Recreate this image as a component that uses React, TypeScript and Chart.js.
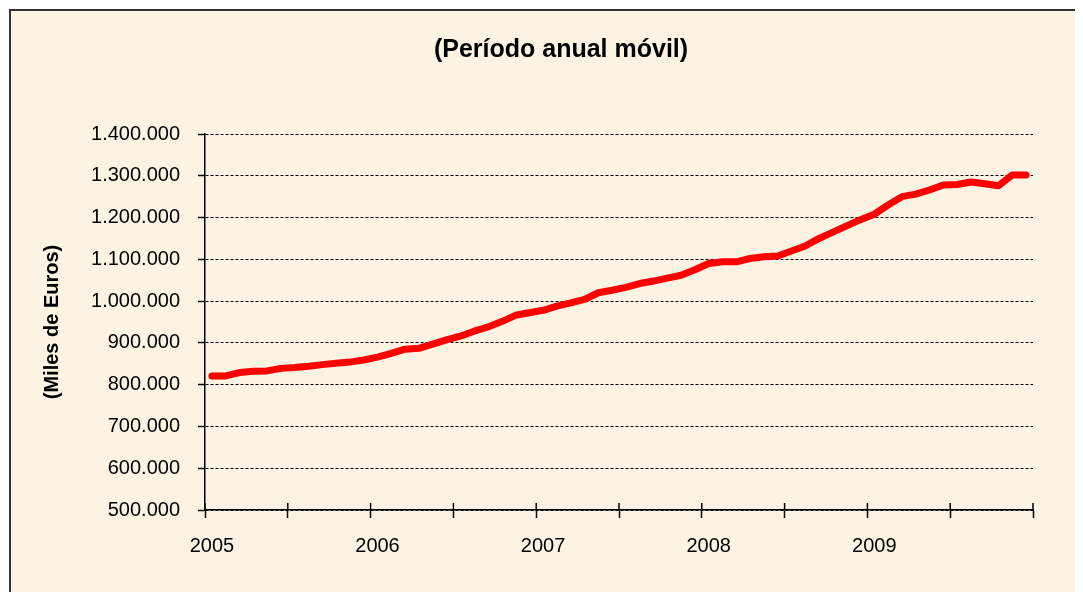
import React, { useEffect, useRef } from "react";
import { Chart, registerables } from "chart.js";

Chart.register(...registerables);

const TITLE = "(Período anual móvil)";
const Y_TITLE = "(Miles de Euros)";

const YEARS = ["2005", "2006", "2007", "2008", "2009"];
const MONTHS = ["01", "02", "03", "04", "05", "06", "07", "08", "09", "10", "11", "12"];
const CATEGORIES: string[] = [];
for (const y of YEARS) for (const m of MONTHS) CATEGORIES.push(`${y}-${m}`);

// Miles de euros, período anual móvil (monthly, Jan 2005 – Dec 2009)
const VALUES_2005 = [821000, 821000, 829000, 832000, 833000, 839000, 841000, 844000, 848000, 851000, 854000, 859000];
const VALUES_2006 = [866000, 875000, 885000, 887000, 897000, 907000, 916000, 928000, 938000, 951000, 966000, 972000];
const VALUES_2007 = [978000, 988000, 996000, 1004000, 1020000, 1026000, 1033000, 1042000, 1048000, 1055000, 1062000, 1075000];
const VALUES_2008 = [1090000, 1094000, 1094000, 1102000, 1106000, 1108000, 1120000, 1132000, 1150000, 1165000, 1180000, 1195000];
const VALUES_2009 = [1208000, 1230000, 1250000, 1256000, 1266000, 1278000, 1279000, 1285000, 1281000, 1276000, 1302000, 1302000];
const VALUES = [...VALUES_2005, ...VALUES_2006, ...VALUES_2007, ...VALUES_2008, ...VALUES_2009];

const Y_MIN = 500000;
const Y_MAX = 1400000;
const Y_STEP = 100000;

const fmt = (v: number) => String(Math.round(v)).replace(/\B(?=(\d{3})+(?!\d))/g, ".");

const innerTicks = {
  id: "innerTicks",
  afterDraw(chart: any) {
    const x = chart.scales.x;
    const ctx = chart.ctx;
    const n = CATEGORIES.length / 6;
    ctx.save();
    ctx.strokeStyle = "#000";
    ctx.lineWidth = 1.5;
    for (let k = 0; k <= n; k++) {
      const px = x.left + (k * (x.right - x.left)) / n;
      ctx.beginPath();
      ctx.moveTo(px, x.top - 7);
      ctx.lineTo(px, x.top);
      ctx.stroke();
    }
    ctx.restore();
  },
};

export default function App() {
  const ref = useRef<HTMLCanvasElement | null>(null);
  useEffect(() => {
    if (!ref.current) return;
    const chart = new Chart(ref.current, {
      type: "line",
      data: {
        labels: CATEGORIES,
        datasets: [
          {
            data: VALUES,
            borderColor: "#FF0000",
            borderWidth: 7,
            borderCapStyle: "round",
            borderJoinStyle: "round",
            pointRadius: 0,
            tension: 0,
            fill: false,
          },
        ],
      },
      options: {
        responsive: false,
        animation: false,
        devicePixelRatio: 1,
        layout: { padding: { left: 78, right: 50, top: 0, bottom: 0 } },
        plugins: {
          legend: { display: false },
          tooltip: { enabled: false },
          title: {
            display: true,
            text: TITLE,
            color: "#000",
            font: { family: "'Liberation Sans', Arial, sans-serif", size: 25, weight: "bold" },
            padding: { top: 24, bottom: 69 },
          },
        },
        scales: {
          x: {
            type: "category",
            offset: true,
            afterFit: (s: any) => {
              s.height = 82;
            },
            grid: {
              offset: true,
              drawOnChartArea: false,
              drawTicks: true,
              tickLength: 8,
              tickWidth: 1.5,
              tickColor: (c: any) =>
                c.index === undefined || c.index % 6 === 0 ? "#000" : "rgba(0,0,0,0)",
              color: "rgba(0,0,0,0)",
            },
            border: { display: true, color: "#000", width: 1.5 },
            ticks: {
              autoSkip: false,
              maxRotation: 0,
              minRotation: 0,
              padding: 16,
              color: "#000",
              font: { family: "'Liberation Sans', Arial, sans-serif", size: 20 },
              callback: function (this: any, val: any, index: number) {
                return index % 12 === 0 ? String(this.getLabelForValue(val)).slice(0, 4) : "";
              },
            },
          },
          y: {
            min: Y_MIN,
            max: Y_MAX,
            afterFit: (s: any) => {
              s.width = 116;
            },
            grid: {
              color: "#000",
              lineWidth: 1,
              tickLength: 7,
              tickWidth: 1.5,
              tickColor: "#000",
              tickBorderDash: [],
            },
            border: { display: true, color: "#000", width: 1.5, dash: [3, 2] },
            ticks: {
              stepSize: Y_STEP,
              padding: 18,
              color: "#000",
              font: { family: "'Liberation Sans', Arial, sans-serif", size: 20 },
              callback: (v: any) => fmt(Number(v)),
            },
            title: {
              display: true,
              text: Y_TITLE,
              color: "#000",
              font: { family: "'Liberation Sans', Arial, sans-serif", size: 20, weight: "bold" },
              padding: { top: -49, bottom: 0 },
            },
          },
        },
      },
      plugins: [innerTicks],
    } as any);
    return () => chart.destroy();
  }, []);

  return (
    <div
      style={{
        margin: "1px 0 0 1px",
        width: 1074,
        height: 583,
        boxSizing: "border-box",
        borderTop: "2px solid #333",
        borderLeft: "2px solid #333",
        background: "#FCF3E2",
        overflow: "hidden",
      }}
    >
      <canvas ref={ref} width={1072} height={581} style={{ display: "block" }} />
    </div>
  );
}
